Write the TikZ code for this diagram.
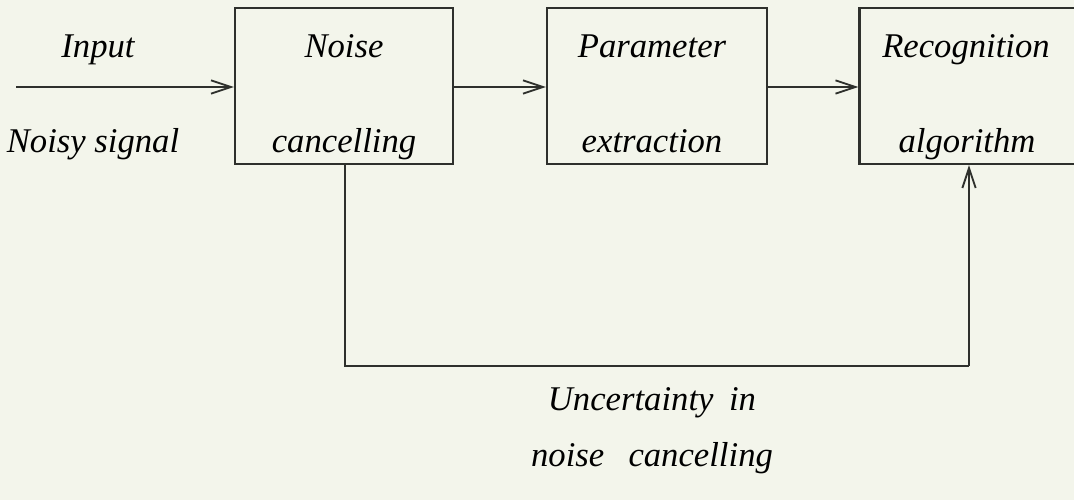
\documentclass[tikz,border=0pt]{standalone}
\usepackage{fontspec}
\setmainfont{Liberation Serif}
\usetikzlibrary{arrows.meta,calc}
\definecolor{paper}{HTML}{F3F5EB}
\definecolor{ink}{HTML}{2E302C}
\tikzset{
  blockbox/.style={draw=ink, line width=1.6pt, minimum height=117pt, inner sep=0pt},
  txt/.style={font=\fontsize{26}{30}\selectfont\itshape, text=black, anchor=base, inner sep=0pt},
  conn/.style={draw=ink, line width=1.5pt, -{Straight Barb[length=15pt,width=10pt,line width=1.4pt]}},
  feed/.style={draw=ink, line width=1.5pt}
}
\begin{document}
\begin{tikzpicture}[x=0.75pt,y=-0.75pt]
\fill[paper] (0,0) rectangle (1074,500);
\useasboundingbox (0,0) rectangle (1074,500);
% blocks
\node[blockbox, minimum width=163.5pt] (b1) at (344,86) {};
\node[blockbox, minimum width=165pt] (b2) at (657,86) {};
\node[blockbox, minimum width=162pt] (b3) at (967.5,86) {};
% texts in blocks
\node[txt] (t1a) at (344,57) {Noise};
\node[txt] (t1b) at (344,152) {cancelling};
\node[txt] (t2a) at (652,57) {Parameter};
\node[txt] (t2b) at (652,152) {extraction};
\node[txt] (t3a) at (966,57) {Recognition};
\node[txt] (t3b) at (967,152) {algorithm};
% input
\coordinate (in) at (16,87);
\node[txt] (tin) at (98,57) {Input};
\node[txt] (tns) at (93,152) {Noisy signal};
% connectors
\draw[conn] (in) -- (b1.west |- in);
\draw[conn] (b1.east |- in) -- (b2.west |- in);
\draw[conn] (b2.east |- in) -- (b3.west |- in);
% feedback
\coordinate (fb1) at (345,366);
\coordinate (fb2) at (969,366);
\draw[feed] (b1.south -| fb1) -- (fb1) -- (fb2);
\draw[conn] (fb2) -- (b3.south -| fb2);
% bottom label
\node[txt] (u1) at (652,410) {Uncertainty\hspace{0.45em}in};
\node[txt] (u2) at (652,466) {noise\hspace{0.7em}cancelling};
\end{tikzpicture}
\end{document}
